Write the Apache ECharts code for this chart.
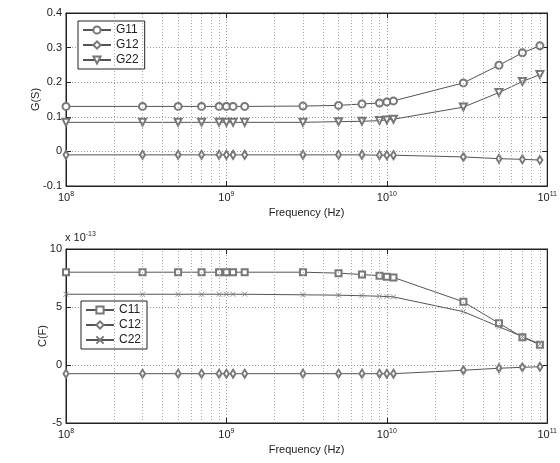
<!DOCTYPE html>
<html>
<head>
<meta charset="utf-8">
<script src="https://cdn.jsdelivr.net/npm/echarts@6/dist/echarts.min.js"></script>
<style>
html, body { margin: 0; padding: 0; background: #fff; }
#main { width: 560px; height: 463px; }
</style>
</head>
<body>
<div id="main"></div>
<script>
// frequency points (Hz)
var freq = [1e8, 3e8, 5e8, 7e8, 9e8, 1e9, 1.1e9, 1.3e9, 3e9, 5e9, 7e9, 9e9, 1e10, 1.1e10, 3e10, 5e10, 7e10, 9e10];
// conductance (S)
var g11 = [0.13, 0.13, 0.13, 0.13, 0.13, 0.13, 0.13, 0.13, 0.131, 0.133, 0.137, 0.140, 0.143, 0.146, 0.198, 0.249, 0.285, 0.305];
var g12 = [-0.01, -0.01, -0.01, -0.01, -0.01, -0.01, -0.01, -0.01, -0.01, -0.01, -0.01, -0.011, -0.011, -0.011, -0.016, -0.021, -0.023, -0.025];
var g22 = [0.084, 0.084, 0.084, 0.084, 0.084, 0.084, 0.084, 0.084, 0.084, 0.086, 0.087, 0.089, 0.091, 0.093, 0.128, 0.170, 0.202, 0.222];
// capacitance, units of 1e-13 F
var c11 = [8.0, 8.0, 8.0, 8.0, 8.0, 8.0, 8.0, 8.0, 8.0, 7.92, 7.8, 7.7, 7.6, 7.55, 5.45, 3.6, 2.4, 1.75];
var c12 = [-0.75, -0.75, -0.75, -0.75, -0.75, -0.75, -0.75, -0.75, -0.75, -0.75, -0.75, -0.75, -0.75, -0.75, -0.45, -0.28, -0.2, -0.15];
var c22 = [6.1, 6.1, 6.1, 6.1, 6.1, 6.1, 6.1, 6.1, 6.05, 6.02, 5.97, 5.93, 5.9, 5.87, 4.6, 3.3, 2.45, 1.8];
// tick labels
var gTicks = ['-0.1', '0', '0.1', '0.2', '0.3', '0.4'];
var cTicks = ['-5', '0', '5', '10'];
// minor grid positions (2..9 x 10^n)
var minorMult = [2, 3, 4, 5, 6, 7, 8, 9];
var decades = [1e8, 1e9, 1e10];

(function() {
	var font = 'Liberation Sans, Arial, sans-serif';
	var ink = '#222';
	var lineCol = '#555';
	var markCol = '#777';

	var minorLines = [];
	for (var i = 0; i < decades.length; i++) {
		for (var j = 0; j < minorMult.length; j++) {
			minorLines.push({ xAxis: decades[i] * minorMult[j] });
		}
	}

	function pairs(ys) {
		var out = [];
		for (var i = 0; i < freq.length; i++) out.push([freq[i], ys[i]]);
		return out;
	}

	//x axis (log) for a grid
	function xAx(idx) {
		return {
			type: 'log', logBase: 10, gridIndex: idx, min: 1e8, max: 1e11,
			name: 'Frequency (Hz)', nameLocation: 'middle', nameGap: 21, nameMoveOverlap: false,
			nameTextStyle: { fontFamily: font, fontSize: 11, color: ink },
			axisLine: { onZero: false, lineStyle: { color: ink } },
			axisTick: { inside: true, length: 5, lineStyle: { color: ink } },
			axisLabel: {
				fontFamily: font, fontSize: 11, color: ink, margin: 5,
				formatter: function(v) {
					return '10{s|' + Math.round(Math.log(v) / Math.LN10) + '}';
				},
				rich: { s: { fontSize: 7, verticalAlign: 'top', padding: [0, 0, 6, 0], fontFamily: font, color: ink } }
			},
			splitLine: { show: true, lineStyle: { color: '#999', type: [1, 2] } }
		};
	}
	function xTop(idx) {
		return {
			type: 'log', logBase: 10, gridIndex: idx, min: 1e8, max: 1e11, position: 'top',
			axisLine: { onZero: false, lineStyle: { color: ink } },
			axisTick: { inside: true, length: 5, lineStyle: { color: ink } },
			axisLabel: { show: false }, splitLine: { show: false }
		};
	}
	function yAx(idx, name, min, max, step, labels, gap) {
		return {
			type: 'value', gridIndex: idx, min: min, max: max, interval: step,
			name: name, nameLocation: 'middle', nameGap: gap, nameMoveOverlap: false,
			nameTextStyle: { fontFamily: font, fontSize: 11, color: ink },
			axisLine: { show: true, onZero: false, lineStyle: { color: ink } },
			axisTick: { show: true, inside: true, length: 5, lineStyle: { color: ink } },
			axisLabel: {
				fontFamily: font, fontSize: 11, color: ink, margin: 4,
				formatter: function(v) { return labels[Math.round((v - min) / step)]; }
			},
			splitLine: { show: true, lineStyle: { color: '#999', type: [1, 2] } }
		};
	}
	function yRight(idx, min, max, step) {
		return {
			type: 'value', gridIndex: idx, min: min, max: max, interval: step, position: 'right',
			axisLine: { show: true, onZero: false, lineStyle: { color: ink } },
			axisTick: { show: true, inside: true, length: 5, lineStyle: { color: ink } },
			axisLabel: { show: false }, splitLine: { show: false }
		};
	}
	function line(name, data, xi, yi, symbol, size, extra) {
		var s = {
			name: name, type: 'line', xAxisIndex: xi, yAxisIndex: yi,
			data: pairs(data), symbol: symbol, symbolSize: size,
			showAllSymbol: true, animation: false,
			lineStyle: { color: lineCol, width: 1 },
			itemStyle: { color: markCol, borderColor: markCol, borderWidth: 0.8 }
		};
		for (var k in extra) s[k] = extra[k];
		return s;
	}
	var minorMark = {
		silent: true, symbol: 'none', label: { show: false },
		lineStyle: { color: '#aaa', type: [1, 2], width: 1 },
		data: minorLines, animation: false
	};
	var crossPath = 'path://M0,0L10,10M10,0L0,10';
	var legendStyle = {
		orient: 'vertical', backgroundColor: '#fff', borderColor: ink, borderWidth: 1,
		padding: [3, 6, 3, 4], itemGap: 3, itemWidth: 28, itemHeight: 9,
		textStyle: { fontFamily: font, fontSize: 12, color: '#222' }
	};

	var chart = echarts.init(document.getElementById('main'));
	chart.setOption({
		backgroundColor: '#fff',
		animation: false,
		grid: [
			{ left: 66, top: 13, width: 484, height: 173, show: true, borderColor: ink, borderWidth: 1 },
			{ left: 66, top: 249, width: 484, height: 174, show: true, borderColor: ink, borderWidth: 1 }
		],
		xAxis: [xAx(0), xAx(1), xTop(0), xTop(1)],
		yAxis: [
			yAx(0, 'G(S)', -0.1, 0.4, 0.1, gTicks, 25),
			yAx(1, 'C(F)', -5, 10, 5, cTicks, 18),
			yRight(0, -0.1, 0.4, 0.1),
			yRight(1, -5, 10, 5)
		],
		legend: [
			Object.assign({ left: 78, top: 21, data: ['G11', 'G12', 'G22'] }, legendStyle),
			Object.assign({ left: 81, top: 301, data: ['C11', 'C12', 'C22'] }, legendStyle)
		],
		graphic: [{
			type: 'text', left: 65, top: 231,
			style: {
				text: 'x 10{s|-13}', font: '11px ' + font, fill: ink,
				rich: { s: { fontSize: 7, verticalAlign: 'top', padding: [0, 0, 6, 0], fill: ink } }
			}
		}],
		series: [
			line('G11', g11, 0, 0, 'emptyCircle', 7, { markLine: minorMark }),
			line('G12', g12, 0, 0, 'emptyDiamond', [5, 8]),
			line('G22', g22, 0, 0, 'emptyTriangle', 7, { symbolRotate: 180 }),
			line('C11', c11, 1, 1, 'emptyRect', 6, { markLine: minorMark }),
			line('C12', c12, 1, 1, 'emptyDiamond', [5, 8]),
			line('C22', c22, 1, 1, crossPath, 5, { itemStyle: { color: 'transparent', borderColor: markCol, borderWidth: 0.8 } })
		]
	});
})();
</script>
</body>
</html>
